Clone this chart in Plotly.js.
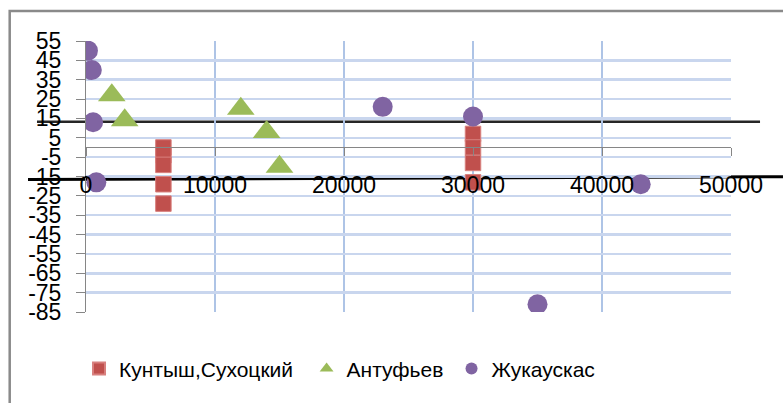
<!DOCTYPE html>
<html>
<head>
<meta charset="utf-8">
<script src="https://cdn.plot.ly/plotly-3.0.1.min.js"></script>
<style>html,body{margin:0;padding:0;background:#fff;}#chart{width:783px;height:403px;}</style>
</head>
<body>
<div id="chart"></div>
<script>
// Series names
const seriesNames = ["Кунтыш,Сухоцкий", "Антуфьев", "Жукаускас"];

// Кунтыш,Сухоцкий
const kuntX = [6000, 6000, 6000, 6000, 6000, 30000, 30000, 30000, 30000];
const kuntY = [0, -4, -9, -19, -29, 7, 0, -8, -18];

// Антуфьев
const antX = [2000, 3000, 12000, 14000, 15000];
const antY = [27, 14, 20, 8, -10];

// Жукаускас
const zhukX = [150, 450, 550, 800, 23000, 30000, 35000, 43000];
const zhukY = [50, 40, 13, -18, 21, 16, -81, -19];

// Tick labels
const xTickVals = [0, 10000, 20000, 30000, 40000, 50000];
const xTickText = ["0", "10000", "20000", "30000", "40000", "50000"];
const yTickVals = [55, 45, 35, 25, 15, 5, -5, -15, -25, -35, -45, -55, -65, -75, -85];
const yTickText = ["55", "45", "35", "25", "15", "5", "-5", "-15", "-25", "-35", "-45", "-55", "-65", "-75", "-85"];

const FONT = "Liberation Sans, Arial, sans-serif";

const traces = [
  {
    type: "scatter", mode: "markers", name: seriesNames[0], legend: "legend",
    x: kuntX, y: kuntY,
    marker: {symbol: "square", size: 15.5, color: "#C0504D", line: {color: "#D8807E", width: 1}}
  },
  {
    type: "scatter", mode: "markers", name: seriesNames[1], legend: "legend2",
    x: antX, y: antY,
    marker: {symbol: "triangle-up", size: 24, color: "#9BBB59", line: {width: 0}}
  },
  {
    type: "scatter", mode: "markers", name: seriesNames[2], legend: "legend3",
    x: zhukX, y: zhukY,
    marker: {symbol: "circle", size: 20, color: "#8064A2", line: {width: 0}}
  }
];

function legendAt(xf) {
  return {
    orientation: "h", x: xf, xanchor: "left", y: -0.21, yanchor: "middle",
    font: {family: FONT, size: 21, color: "#000"},
    itemsizing: "constant", bgcolor: "rgba(0,0,0,0)"
  };
}

const layout = {
  width: 783, height: 403,
  margin: {l: 86, r: 52, t: 41, b: 91},
  paper_bgcolor: "rgba(255,255,255,0)",
  plot_bgcolor: "rgba(255,255,255,0)",
  font: {family: FONT, color: "#000", size: 23},
  showlegend: true,
  legend: legendAt(-0.0108),
  legend2: legendAt(0.3420),
  legend3: legendAt(0.5667),
  xaxis: {
    range: [0, 50000], anchor: "free", position: 0.6071,
    tickmode: "array", tickvals: xTickVals, ticktext: xTickText,
    showline: true, linecolor: "#868686", linewidth: 1,
    ticks: "outside", ticklen: 8, tickcolor: "#868686", tickwidth: 1,
    ticklabelstandoff: 9,
    showgrid: true, gridcolor: "#AEC4E6", gridwidth: 2,
    zeroline: false,
    tickfont: {family: FONT, size: 23, color: "#000"}
  },
  yaxis: {
    range: [-85, 55],
    tickmode: "array", tickvals: yTickVals, ticktext: yTickText,
    showline: true, linecolor: "#868686", linewidth: 1,
    ticks: "outside", ticklen: 9, tickcolor: "#868686", tickwidth: 1,
    ticklabelstandoff: 10,
    showgrid: true, gridcolor: "#C9D6EE", gridwidth: 2.5,
    zeroline: false,
    tickfont: {family: FONT, size: 23, color: "#000"}
  },
  shapes: [
    {type: "rect", xref: "paper", yref: "paper", layer: "below",
     x0: -0.1183, y0: 1.1107, x1: 1.2, y1: -0.5,
     line: {color: "#8A8A8A", width: 2.5}, fillcolor: "rgba(0,0,0,0)"},
    {type: "line", xref: "paper", yref: "paper", layer: "below",
     x0: -0.076, y0: 0.7022, x1: 1.045, y1: 0.7022,
     line: {color: "#262626", width: 2.5}},
    {type: "line", xref: "paper", yref: "paper", layer: "below",
     x0: -0.0899, y0: 0.4889, x1: 1.0806, y1: 0.4993,
     line: {color: "#000000", width: 3}}
  ]
};

Plotly.newPlot("chart", traces, layout, {displayModeBar: false, staticPlot: true});
</script>
</body>
</html>
